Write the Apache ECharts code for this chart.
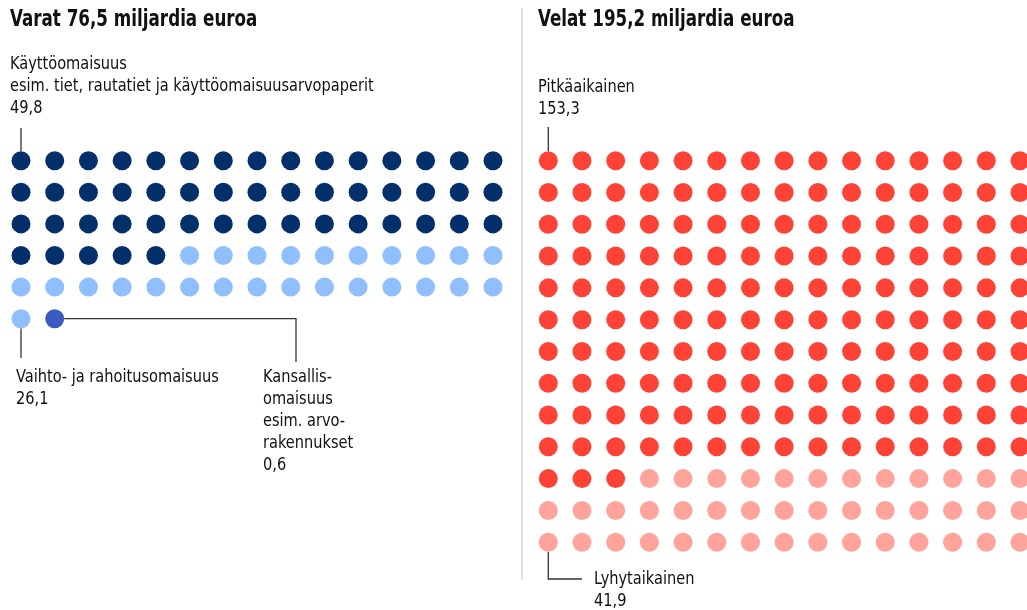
<!DOCTYPE html>
<html>
<head>
<meta charset="utf-8">
<script src="https://cdn.jsdelivr.net/npm/echarts@6/dist/echarts.min.js"></script>
<style>
  html, body { margin: 0; padding: 0; background: #fff; }
  #chart { width: 1027px; height: 610px; }
</style>
</head>
<body>
<div id="chart"></div>
<script>
// Data (miljardia euroa)
var assetNames = ["Käyttöomaisuus", "Vaihto- ja rahoitusomaisuus", "Kansallisomaisuus"];
var assetValues = [49.8, 26.1, 0.6];
var assetColors = ["#032f6b", "#8fbfff", "#3a5bbf"];

var debtNames = ["Pitkäaikainen", "Lyhytaikainen"];
var debtValues = [153.3, 41.9];
var debtColors = ["#ff4236", "#ffa39b"];

var columns = 15;						// Dots per row
var dotSize = 19;
var font = '"Liberation Sans Narrow", "DejaVu Sans Condensed", sans-serif';

// Turns values into waffle dots: one dot per billion, filled row by row
function waffleSeries(names, values, colors, gridIndex) {
	var series = [];
	var pos = 0;
	values.forEach(function (v, i) {
		var n = Math.round(v);
		var pts = [];
		for (var k = 0; k < n; k++) {
			pts.push([pos % columns, Math.floor(pos / columns)]);
			pos++;
		}
		series.push({
			name: names[i],
			type: 'scatter',
			xAxisIndex: gridIndex,
			yAxisIndex: gridIndex,
			symbolSize: dotSize,
			itemStyle: { color: colors[i], opacity: 1 },
			silent: true,
			data: pts
		});
	});
	return series;
}

var chart = echarts.init(document.getElementById('chart'), null, { renderer: 'canvas' });

var hidden = { show: false };
function axis(max, inverse) {
	return {
		type: 'value', min: 0, max: max, inverse: inverse,
		axisLine: hidden, axisTick: hidden, axisLabel: hidden, splitLine: hidden
	};
}

chart.setOption({
	animation: false,
	grid: [
		{ left: 21, top: 160.7, width: 472, height: 158 },
		{ left: 548.3, top: 160.7, width: 471.7, height: 381.5 }
	],
	xAxis: [axis(columns - 1, false), Object.assign(axis(columns - 1, false), { gridIndex: 1 })],
	yAxis: [axis(5, true), Object.assign(axis(12, true), { gridIndex: 1 })],
	series: waffleSeries(assetNames, assetValues, assetColors, 0)
		.concat(waffleSeries(debtNames, debtValues, debtColors, 1))
});

// Anchors for the leader lines, taken from the dots themselves
function dotPx(seriesIndex, dataIndex) {
	var s = chart.getOption().series[seriesIndex];
	return chart.convertToPixel({ seriesIndex: seriesIndex }, s.data[dataIndex]);
}
var r = dotSize / 2;
var aFirst = dotPx(0, 0);
var vFirst = dotPx(1, Math.round(assetValues[1]) - 1);
var kFirst = dotPx(2, 0);
var pFirst = dotPx(3, 0);
var lLast = dotPx(4, Math.round(debtValues[1]) - columns);

function fmt(v) { return v.toFixed(1).replace('.', ','); }

// Text squeezed horizontally to look like the condensed face of the original
function txt(x, y, text, size, weight, squeeze) {
	return {
		type: 'text', x: x, y: y, scaleX: squeeze || 0.9, silent: true,
		style: {
			text: text, fill: '#111', font: (weight || 'normal') + ' ' + size + 'px ' + font,
			lineHeight: 22, verticalAlign: 'top'
		}
	};
}
function line(points) {
	return {
		type: 'polyline', silent: true,
		shape: { points: points },
		style: { stroke: '#333', lineWidth: 1.3, fill: null }
	};
}

chart.setOption({
	graphic: [
		// Divider between panels
		{ type: 'line', silent: true, shape: { x1: 522, y1: 8, x2: 522, y2: 580 }, style: { stroke: '#dedede', lineWidth: 2 } },
		txt(10, 9, 'Varat 76,5 miljardia euroa', 23, 'bold', 0.81),
		txt(538, 9, 'Velat 195,2 miljardia euroa', 23, 'bold', 0.81),
		txt(10, 53, assetNames[0] + '\nesim. tiet, rautatiet ja käyttöomaisuusarvopaperit\n' + fmt(assetValues[0]), 18),
		line([[aFirst[0], 128], [aFirst[0], aFirst[1] - r]]),
		txt(16, 366, assetNames[1] + '\n' + fmt(assetValues[1]), 18),
		line([[vFirst[0], vFirst[1] + r], [vFirst[0], 358]]),
		txt(263, 366, 'Kansallis-\nomaisuus\nesim. arvo-\nrakennukset\n' + fmt(assetValues[2]), 18),
		line([[kFirst[0] + r, kFirst[1]], [296, kFirst[1]], [296, 362]]),
		txt(538, 76, debtNames[0] + '\n' + fmt(debtValues[0]), 18),
		line([[pFirst[0], 127], [pFirst[0], pFirst[1] - r]]),
		txt(594, 568, debtNames[1] + '\n' + fmt(debtValues[1]), 18),
		line([[lLast[0], lLast[1] + r], [lLast[0], 579], [582, 579]])
	]
});
</script>
</body>
</html>
